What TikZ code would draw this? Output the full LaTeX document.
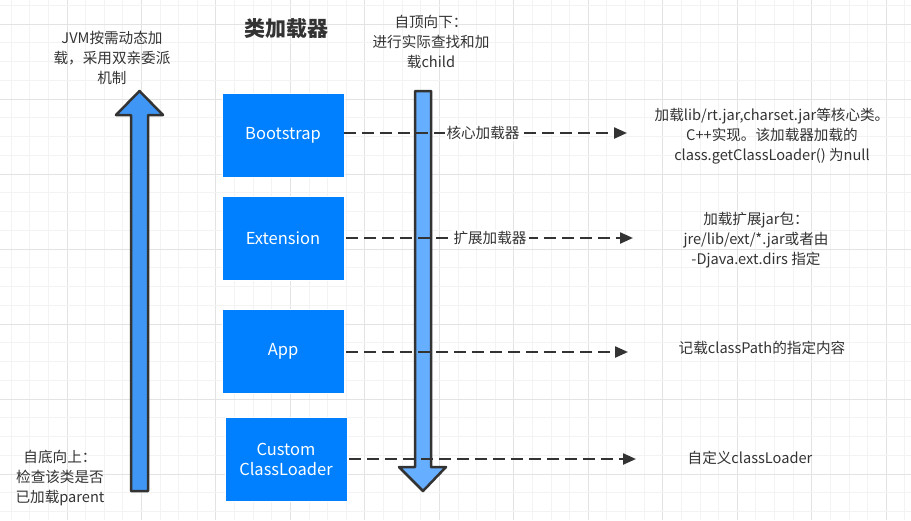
\documentclass[tikz,border=0pt]{standalone}
\usepackage{fontspec}
\setmainfont{Noto Sans CJK SC}
\usetikzlibrary{arrows.meta}
\definecolor{gridminor}{HTML}{F3F3F3}
\definecolor{gridmajor}{HTML}{E3E3E3}
\definecolor{boxblue}{HTML}{0080FF}
\definecolor{upblue}{HTML}{3F96F5}
\definecolor{downblue}{HTML}{66AEFF}
\definecolor{ink}{HTML}{333333}
\tikzset{
  txt/.style={text=ink, align=center, inner sep=0pt, font=\fontsize{14.6}{20}\selectfont},
  loader/.style={fill=boxblue, draw=white, line width=0.8pt, minimum width=122pt, minimum height=84pt, text=white, align=center, font=\fontsize{16.5}{20}\selectfont},
  bigarrow/.style={draw=ink, line width=2.5pt, line join=round},
  flow/.style={draw=ink, line width=2.3pt, dash pattern=on 12pt off 6pt, -{Triangle[length=13pt,width=11pt]}},
  lab/.style={txt, fill=white, inner xsep=2pt, inner ysep=1pt}
}
\begin{document}
\begin{tikzpicture}[x=1pt,y=-1pt]
\useasboundingbox (0,0) rectangle (911,520);
\fill[white] (0,0) rectangle (911,520);
% grid
\foreach \i in {-3,...,45} {
  \pgfmathsetmacro\xx{67+18.62*\i}
  \pgfmathtruncatemacro\mm{mod(\i+400,4)}
  \ifnum\mm=0 \draw[gridmajor,line width=1pt] (\xx,0) -- (\xx,520);
  \else \draw[gridminor,line width=1pt] (\xx,0) -- (\xx,520); \fi
}
\foreach \i in {-1,...,27} {
  \pgfmathsetmacro\yy{24+18.75*\i}
  \pgfmathtruncatemacro\mm{mod(\i+400,4)}
  \ifnum\mm=0 \draw[gridmajor,line width=1pt] (0,\yy) -- (911,\yy);
  \else \draw[gridminor,line width=1pt] (0,\yy) -- (911,\yy); \fi
}
% title and side texts
\node[txt, font=\fontsize{21}{24}\selectfont\bfseries] (title) at (286.5,29) {类加载器};
\node[txt] (jvm) at (112,58) {JVM按需动态加\\载，采用双亲委派\\机制};
\node[txt] (topdown) at (431,42) {自顶向下：\\进行实际查找和加\\载child};
\node[txt] (bottomup) at (60,478) {自底向上：\\检查该类是否\\已加载parent};
% big arrows
\path[bigarrow, fill=upblue] (131,491) -- (148,491) -- (148,115) -- (163,115) -- (139.5,91) -- (116,115) -- (131,115) -- cycle;
\path[bigarrow, fill=downblue] (415,91) -- (431,91) -- (431,467) -- (446,467) -- (423,491) -- (399,467) -- (415,467) -- cycle;
% loader boxes
\node[loader] (boot) at (283,135) {Bootstrap};
\node[loader] (ext) at (283,238.5) {Extension};
\node[loader] (app) at (283,351) {App};
\node[loader] (cust) at (286,459) {Custom\\ClassLoader};
% arrow ends
\coordinate (bootend) at (627,133);
\coordinate (extend) at (633,238);
\coordinate (append) at (628,352);
\coordinate (custend) at (636,459);
\draw[flow] (boot.east |- bootend) -- (bootend);
\draw[flow] (ext.east |- extend) ++(2,0) -- (extend);
\draw[flow] (app.east |- append) ++(2,0) -- (append);
\draw[flow] (cust.east |- custend) ++(2,0) -- (custend);
\node[lab] (bootlab) at (483,133) {核心加载器};
\node[lab] (extlab) at (490,238) {扩展加载器};
% descriptions
\node[txt] (bootdesc) at (772,136) {加载lib/rt.jar,charset.jar等核心类。\\C++实现。该加载器加载的\\class.getClassLoader() 为null};
\node[txt] (extdesc) at (756,240) {加载扩展jar包：\\jre/lib/ext/*.jar或者由\\-Djava.ext.dirs 指定};
\node[txt] (appdesc) at (762,348) {记载classPath的指定内容};
\node[txt] (custdesc) at (750,458) {自定义classLoader};
\end{tikzpicture}
\end{document}
